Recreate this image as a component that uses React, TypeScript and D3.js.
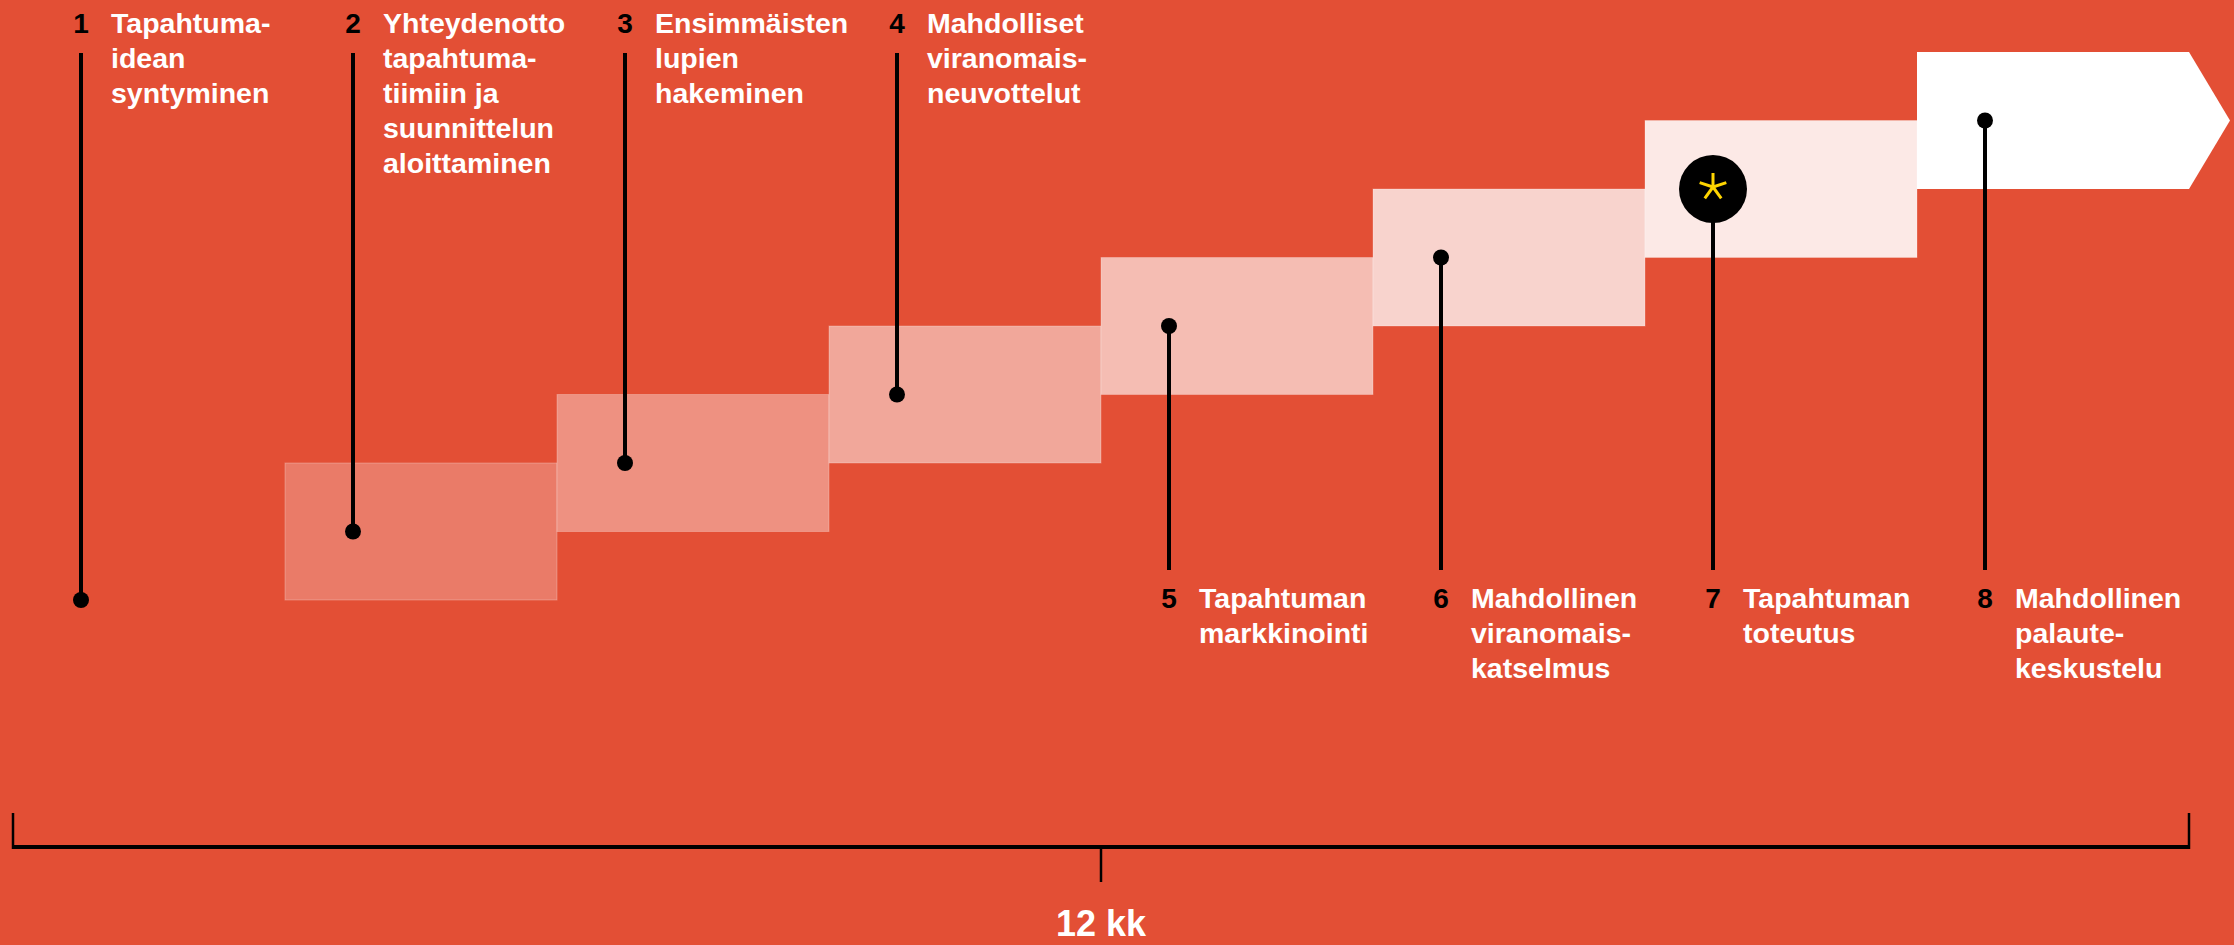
import React from 'react';
import * as d3 from 'd3';

const width = 2234;
const height = 945;

const stepNumbers = ['1', '2', '3', '4', '5', '6', '7', '8'];
const stepLabels: string[][] = [
    ['Tapahtuma-', 'idean', 'syntyminen'],
    ['Yhteydenotto', 'tapahtuma-', 'tiimiin ja', 'suunnittelun', 'aloittaminen'],
    ['Ensimmäisten', 'lupien', 'hakeminen'],
    ['Mahdolliset', 'viranomais-', 'neuvottelut'],
    ['Tapahtuman', 'markkinointi'],
    ['Mahdollinen', 'viranomais-', 'katselmus'],
    ['Tapahtuman', 'toteutus'],
    ['Mahdollinen', 'palaute-', 'keskustelu'],
];
// which side the label sits on
const labelSide = ['top', 'top', 'top', 'top', 'bottom', 'bottom', 'bottom', 'bottom'];
const highlightStep = 6;
const durationLabel = '12 kk';

const bg = '#e34f35';
const font = '"Liberation Sans", Arial, Helvetica, sans-serif';

const x = d3.scaleLinear().domain([0, 8]).range([13, 2189]);
const y = d3.scaleLinear().domain([0, 8]).range([600, 52]);
const shade = d3.scaleLinear().domain([1, 7]).range([0.25, 1]);
const fill = (i: number) => d3.interpolateRgb(bg, '#ffffff')(shade(i));

const dotOffset = 68;
const lineHeight = 35;

const App = () => {
    const colW = x(1) - x(0);
    return (
        <svg width={width} height={height} style={{ position: 'absolute', left: 0, top: 0, display: 'block' }}>
            <rect x={0} y={0} width={width} height={height} fill={bg} />
            {stepNumbers.map((_, i) => {
                if (i === 0) return null;
                const x0 = x(i);
                const x1 = x(i + 1);
                const top = y(i + 1);
                const bot = y(i - 1);
                if (i === 7) {
                    const mid = y(i);
                    const tip = x1 + 41;
                    return (
                        <path key={i} d={`M${x0},${top}L${x1},${top}L${tip},${mid}L${x1},${bot}L${x0},${bot}Z`} fill="#ffffff" />
                    );
                }
                return (
                    <rect key={i} x={x0} y={top} width={colW} height={bot - top} fill={fill(i)}
                        stroke="#ffffff" strokeOpacity={0.25} strokeWidth={1} />
                );
            })}
            {stepNumbers.map((num, i) => {
                const cx = x(i) + dotOffset;
                const cy = y(i);
                const isTop = labelSide[i] === 'top';
                const lineEnd = isTop ? 53 : 570;
                const base0 = isTop ? 33 : 608;
                return (
                    <g key={num}>
                        <line x1={cx} x2={cx} y1={cy} y2={lineEnd} stroke="#000" strokeWidth={4} />
                        {i === highlightStep ? (
                            <g>
                                <circle cx={cx} cy={cy} r={34} fill="#000" />
                                {[0, 72, 144, 216, 288].map(a => {
                                    const r = (a * Math.PI) / 180;
                                    return (
                                        <line key={a} x1={cx} y1={cy - 2} x2={cx + 14 * Math.sin(r)} y2={cy - 2 - 14 * Math.cos(r)}
                                            stroke="#ffd500" strokeWidth={3} />
                                    );
                                })}
                            </g>
                        ) : (
                            <circle cx={cx} cy={cy} r={8} fill="#000" />
                        )}
                        <text x={cx} y={base0} textAnchor="middle" fontFamily={font} fontWeight="bold" fontSize={28} fill="#000">
                            {num}
                        </text>
                        {stepLabels[i].map((t, j) => (
                            <text key={j} x={cx + 30} y={base0 + j * lineHeight} fontFamily={font} fontWeight="bold"
                                fontSize={28.5} fill="#ffffff">
                                {t}
                            </text>
                        ))}
                    </g>
                );
            })}
            <g stroke="#000">
                <line x1={x(0)} x2={x(0)} y1={813} y2={849} strokeWidth={2.5} />
                <line x1={x(8)} x2={x(8)} y1={813} y2={849} strokeWidth={2.5} />
                <line x1={x(0)} x2={x(8)} y1={847} y2={847} strokeWidth={4} />
                <line x1={x(4)} x2={x(4)} y1={847} y2={882} strokeWidth={2.5} />
            </g>
            <text x={x(4)} y={936} textAnchor="middle" fontFamily={font} fontWeight="bold" fontSize={36} fill="#ffffff">
                {durationLabel}
            </text>
        </svg>
    );
};

export default App;
